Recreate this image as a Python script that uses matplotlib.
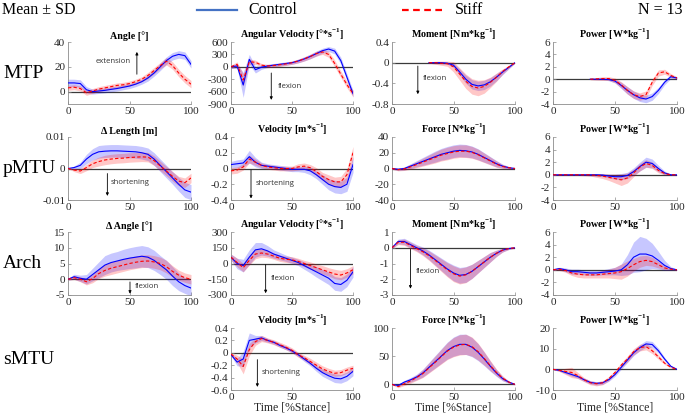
import numpy as np
import matplotlib
matplotlib.use('Agg')
import matplotlib.pyplot as plt
from matplotlib.lines import Line2D

plt.rcParams['font.family'] = 'Liberation Serif'
plt.rcParams['axes.unicode_minus'] = False
plt.rcParams['mathtext.fontset'] = 'custom'
plt.rcParams['mathtext.rm'] = 'Liberation Serif'
plt.rcParams['mathtext.bf'] = 'Liberation Serif:bold'

nan = float('nan')
pct = list(range(0, 101, 5))  # % stance

# ---- MTP ----
mtp_ang_c = [7, 7, 6.5, 1.5, 0, 0.5, 1, 1.8, 2.5, 3.5, 4.5, 6, 8, 11, 15, 20, 25, 28.5, 30, 29, 22]
mtp_ang_c_sd = [3, 3, 3, 2.5, 2, 2, 2, 2, 2, 2, 2, 2, 2, 2.5, 2.5, 3, 3, 3, 3, 3, 3]
mtp_ang_s = [3, 3.5, 2.5, -1, 0.5, 2, 3, 4, 5, 5.5, 6.5, 8, 10, 13, 17, 21, 24.5, 21, 15, 10, 6]
mtp_ang_s_sd = [2, 2, 2, 2, 2, 2, 2, 2, 2, 2, 2, 2, 2, 2.5, 2.5, 2.5, 3, 3, 3, 3, 3]

mtp_vel_c = [0, 20, -440, 180, -70, -10, 20, 40, 60, 80, 100, 140, 190, 250, 320, 390, 430, 380, 150, -250, -650]
mtp_vel_c_sd = [40, 60, 300, 120, 80, 50, 40, 40, 40, 40, 40, 45, 50, 55, 60, 60, 60, 70, 80, 80, 80]
mtp_vel_s = [0, 60, -320, 120, 110, 40, 20, 30, 50, 70, 100, 140, 190, 250, 320, 360, 300, 80, -180, -430, -650]
mtp_vel_s_sd = [40, 60, 150, 70, 50, 40, 40, 40, 40, 40, 40, 45, 50, 55, 60, 60, 70, 80, 80, 80, 80]

mtp_mom_c = [nan] * 6 + [0, 0, 0, -0.01, -0.05, -0.18, -0.32, -0.42, -0.45, -0.43, -0.37, -0.28, -0.18, -0.09, 0]
mtp_mom_c_sd = [nan] * 6 + [0.01, 0.01, 0.02, 0.02, 0.04, 0.06, 0.08, 0.09, 0.09, 0.09, 0.08, 0.07, 0.05, 0.03, 0.01]
mtp_mom_s = [nan] * 6 + [0, 0, -0.01, -0.02, -0.08, -0.22, -0.36, -0.46, -0.49, -0.46, -0.38, -0.28, -0.17, -0.08, 0]
mtp_mom_s_sd = [nan] * 6 + [0.01, 0.03, 0.04, 0.05, 0.1, 0.12, 0.14, 0.15, 0.15, 0.13, 0.1, 0.08, 0.05, 0.03, 0.01]

mtp_pow_c = [nan] * 6 + [0, 0, 0, -0.05, -0.3, -1.0, -1.8, -2.5, -3.0, -3.2, -2.8, -1.8, -0.5, 0.4, 0.2]
mtp_pow_c_sd = [nan] * 6 + [0.05, 0.1, 0.1, 0.2, 0.3, 0.5, 0.6, 0.6, 0.6, 0.6, 0.6, 0.5, 0.4, 0.3, 0.2]
mtp_pow_s = [nan] * 6 + [0, 0.05, 0.1, 0.1, -0.2, -0.9, -1.8, -2.5, -2.8, -2.5, -0.5, 1.0, 1.2, 0.6, 0.2]
mtp_pow_s_sd = [nan] * 6 + [0.1, 0.2, 0.3, 0.3, 0.4, 0.5, 0.6, 0.6, 0.6, 0.6, 0.5, 0.5, 0.4, 0.3, 0.2]

# ---- pMTU ----
pmtu_len_c = [0, 0.0003, 0.001, 0.003, 0.0045, 0.0053, 0.0055, 0.0056, 0.0056, 0.0055, 0.0054, 0.0053, 0.005, 0.0045, 0.003, 0.001, -0.001, -0.003, -0.005, -0.0068, -0.0075]
pmtu_len_c_sd = [0, 0.0005, 0.001, 0.0015, 0.0018, 0.002, 0.002, 0.002, 0.002, 0.002, 0.002, 0.002, 0.002, 0.002, 0.002, 0.002, 0.002, 0.002, 0.0022, 0.0024, 0.0024]
pmtu_len_s = [0, -0.0005, -0.0008, 0.0003, 0.0015, 0.0022, 0.0027, 0.003, 0.0032, 0.0033, 0.0035, 0.0036, 0.0037, 0.0036, 0.0025, 0.0008, -0.0008, -0.0025, -0.004, -0.0045, -0.003]
pmtu_len_s_sd = [0, 0.0005, 0.0008, 0.001, 0.0012, 0.0014, 0.0015, 0.0015, 0.0015, 0.0015, 0.0015, 0.0015, 0.0015, 0.0015, 0.0015, 0.0015, 0.0015, 0.0015, 0.0015, 0.0015, 0.0015]

pmtu_vel_c = [0.05, 0.06, 0.07, 0.15, 0.08, 0.04, 0.03, 0.02, 0.01, 0.0, -0.01, -0.01, -0.01, -0.03, -0.08, -0.14, -0.2, -0.23, -0.24, -0.2, 0.05]
pmtu_vel_c_sd = [0.04, 0.05, 0.05, 0.08, 0.06, 0.04, 0.03, 0.03, 0.03, 0.03, 0.03, 0.03, 0.04, 0.05, 0.05, 0.06, 0.07, 0.08, 0.08, 0.09, 0.1]
pmtu_vel_s = [-0.03, -0.02, 0.02, 0.12, 0.08, 0.04, 0.02, 0.01, 0.0, 0.0, 0.0, 0.02, 0.03, 0.01, -0.04, -0.1, -0.14, -0.17, -0.17, -0.08, 0.2]
pmtu_vel_s_sd = [0.04, 0.04, 0.04, 0.05, 0.04, 0.03, 0.03, 0.03, 0.03, 0.03, 0.03, 0.04, 0.04, 0.04, 0.05, 0.05, 0.06, 0.06, 0.07, 0.08, 0.08]

pmtu_frc_c = [0, -1, 0, 3, 6, 9, 12, 15, 18, 20, 22, 23, 22.5, 21, 18, 14, 10, 6, 3, 1, 0]
pmtu_frc_c_sd = [1, 1.5, 2, 3, 4, 5, 6, 7, 7.5, 8, 8, 8, 8, 7.5, 7, 6, 5, 4, 2.5, 1.5, 0.5]
pmtu_frc_s = [0, -1.5, -0.5, 2, 5, 8, 11, 14, 17, 19, 21, 22, 22, 20.5, 17.5, 13.5, 9.5, 5.5, 2.5, 1, 0]
pmtu_frc_s_sd = [1, 1.5, 2, 3, 4, 5, 6, 7, 7.5, 8, 8, 8, 8, 7.5, 7, 6, 5, 4, 2.5, 1.5, 0.5]

pmtu_pow_c = [0, 0, 0, 0, 0, 0, 0, 0, -0.05, -0.2, -0.3, -0.3, -0.1, 0.5, 1.3, 2.0, 1.8, 1.0, 0.3, 0, 0]
pmtu_pow_c_sd = [0.05, 0.1, 0.1, 0.1, 0.1, 0.1, 0.15, 0.2, 0.25, 0.3, 0.4, 0.5, 0.5, 0.6, 0.7, 0.8, 0.7, 0.5, 0.3, 0.1, 0.05]
pmtu_pow_s = [0, 0, 0, 0, 0, 0, 0, -0.1, -0.2, -0.4, -0.6, -0.8, -0.5, 0.3, 1.2, 1.8, 1.5, 0.7, 0.2, 0, 0]
pmtu_pow_s_sd = [0.05, 0.1, 0.1, 0.1, 0.1, 0.15, 0.2, 0.3, 0.4, 0.5, 0.7, 0.9, 0.8, 0.6, 0.6, 0.6, 0.5, 0.4, 0.2, 0.1, 0.05]

# ---- Arch ----
arch_ang_c = [0, 0.8, 0.3, 0.0, 1.5, 3, 4.5, 5.3, 5.8, 6.3, 6.7, 7.0, 7.3, 7.0, 6.0, 4.5, 3, 1, -0.8, -2, -2.8]
arch_ang_c_sd = [0.3, 0.8, 1, 1.5, 2, 2.5, 3, 3, 3, 3.2, 3.3, 3.4, 3.4, 3.3, 3.2, 3, 3, 3, 2.8, 2.5, 2.5]
arch_ang_s = [0, 0.5, 0, -0.8, 0.2, 1.8, 2.8, 3.5, 4.0, 4.5, 5.0, 5.4, 5.7, 5.8, 5.5, 5, 4, 2.5, 1.3, 0.5, 0.0]
arch_ang_s_sd = [0.3, 0.6, 0.8, 1, 1.3, 1.6, 1.8, 2, 2, 2, 2, 2, 2, 2, 2, 2, 2, 1.8, 1.6, 1.5, 1.5]

arch_vel_c = [60, 0, -20, 60, 130, 140, 120, 90, 70, 50, 30, 10, -20, -50, -80, -110, -140, -190, -200, -160, -80]
arch_vel_c_sd = [30, 50, 60, 70, 70, 60, 50, 40, 35, 30, 30, 30, 35, 40, 50, 55, 60, 65, 65, 60, 50]
arch_vel_s = [60, 10, -40, 30, 90, 100, 90, 70, 50, 40, 35, 20, 0, -20, -40, -60, -80, -100, -110, -90, -60]
arch_vel_s_sd = [30, 40, 40, 45, 45, 40, 35, 30, 30, 30, 30, 30, 30, 35, 35, 40, 40, 45, 45, 40, 40]

arch_mom_c = [0, 0.4, 0.4, 0.2, 0.0, -0.2, -0.45, -0.75, -1.05, -1.35, -1.6, -1.75, -1.7, -1.5, -1.2, -0.9, -0.6, -0.35, -0.15, -0.05, 0]
arch_mom_c_sd = [0.05, 0.15, 0.2, 0.2, 0.2, 0.25, 0.3, 0.35, 0.4, 0.45, 0.5, 0.5, 0.5, 0.45, 0.4, 0.35, 0.3, 0.2, 0.12, 0.06, 0.02]
arch_mom_s = [0, 0.35, 0.35, 0.15, -0.05, -0.25, -0.5, -0.8, -1.1, -1.4, -1.65, -1.8, -1.72, -1.5, -1.2, -0.9, -0.6, -0.35, -0.15, -0.05, 0]
arch_mom_s_sd = [0.05, 0.15, 0.2, 0.2, 0.2, 0.25, 0.3, 0.35, 0.4, 0.45, 0.5, 0.5, 0.5, 0.45, 0.4, 0.35, 0.3, 0.2, 0.12, 0.06, 0.02]

arch_pow_c = [0, 0.2, 0, -0.3, -0.3, -0.4, -0.5, -0.5, -0.4, -0.3, -0.2, 0, 0.8, 2.0, 2.5, 2.5, 2.2, 1.5, 0.7, 0.2, 0]
arch_pow_c_sd = [0.05, 0.2, 0.3, 0.4, 0.4, 0.4, 0.4, 0.4, 0.4, 0.5, 0.6, 0.9, 1.6, 2.4, 2.8, 2.5, 2.0, 1.4, 0.8, 0.3, 0.1]
arch_pow_s = [0, 0.1, -0.1, -0.5, -0.7, -0.8, -0.8, -0.8, -0.7, -0.6, -0.5, -0.3, 0.2, 0.8, 1.3, 1.5, 1.3, 0.8, 0.3, 0.1, 0]
arch_pow_s_sd = [0.05, 0.2, 0.3, 0.4, 0.5, 0.5, 0.5, 0.5, 0.6, 0.7, 0.9, 1.2, 1.2, 1.0, 0.9, 0.8, 0.7, 0.5, 0.3, 0.1, 0.05]

# ---- sMTU ----
smtu_vel_c = [-0.03, -0.15, -0.1, 0.2, 0.22, 0.24, 0.2, 0.17, 0.12, 0.08, 0.03, -0.03, -0.1, -0.17, -0.25, -0.32, -0.37, -0.41, -0.42, -0.38, -0.3]
smtu_vel_c_sd = [0.02, 0.06, 0.12, 0.12, 0.06, 0.04, 0.03, 0.03, 0.03, 0.03, 0.03, 0.03, 0.04, 0.04, 0.05, 0.06, 0.06, 0.07, 0.07, 0.07, 0.07]
smtu_vel_s = [-0.02, -0.1, -0.22, 0.05, 0.18, 0.23, 0.2, 0.17, 0.13, 0.09, 0.04, -0.03, -0.08, -0.14, -0.2, -0.26, -0.3, -0.33, -0.32, -0.28, -0.25]
smtu_vel_s_sd = [0.02, 0.06, 0.12, 0.1, 0.06, 0.05, 0.04, 0.04, 0.04, 0.04, 0.04, 0.04, 0.04, 0.05, 0.05, 0.05, 0.05, 0.05, 0.05, 0.05, 0.05]

smtu_frc_c = [0, -2, 4, 8, 13, 20, 30, 40, 50, 60, 67, 71, 71, 66, 57, 45, 32, 20, 10, 4, 0]
smtu_frc_c_sd = [1, 2, 3, 4, 5, 7, 9, 11, 13, 15, 17, 18, 18, 17, 15, 12, 9, 6, 4, 2, 1]
smtu_frc_s = [0, -4, 1, 6, 12, 19, 29, 39, 49, 59, 66, 70, 71, 67, 58, 46, 33, 21, 11, 4, 0]
smtu_frc_s_sd = [1, 2, 3, 4, 5, 7, 9, 11, 13, 15, 17, 18, 18, 17, 15, 12, 9, 6, 4, 2, 1]

smtu_pow_c = [0, -0.5, -1.5, -2.5, -3.5, -5, -6.3, -6.8, -6.5, -5, -2.5, 1, 4.5, 8, 10.5, 12.3, 12, 9, 5, 1.5, 0]
smtu_pow_c_sd = [0.2, 0.4, 0.6, 0.8, 0.8, 0.8, 0.8, 0.8, 0.8, 0.8, 0.9, 1, 1.2, 1.4, 1.5, 1.6, 1.5, 1.2, 0.8, 0.4, 0.1]
smtu_pow_s = [0, -0.5, -1.0, -1.5, -3, -5, -6.5, -7, -6.5, -4.5, -1.5, 2, 5, 8.5, 10.5, 11, 9, 6, 3, 1, 0]
smtu_pow_s_sd = [0.2, 0.5, 1.5, 2.5, 1.5, 1, 1, 1, 1, 1, 1, 1.2, 1.4, 1.5, 1.6, 1.6, 1.4, 1.1, 0.7, 0.3, 0.1]

cols_px = [(68, 191), (231, 353), (392, 515), (553, 677)]
rows_px = [(42, 104), (137, 200), (232, 295), (328, 390)]
row_names = ['MTP', 'pMTU', 'Arch', 'sMTU']

t_ang = 'Angle [°]'
t_avel = 'Angular Velocity [°*s$^{\\mathbf{-1}}$]'
t_mom = 'Moment [Nm*kg$^{\\mathbf{-1}}$]'
t_pow = 'Power [W*kg$^{\\mathbf{-1}}$]'
t_vel = 'Velocity [m*s$^{\\mathbf{-1}}$]'
t_frc = 'Force [N*kg$^{\\mathbf{-1}}$]'

# (row, col, title, ctrl, ctrl_sd, stiff, stiff_sd, ylim, yticks, annotation)
panels = [
    (0, 0, t_ang, mtp_ang_c, mtp_ang_c_sd, mtp_ang_s, mtp_ang_s_sd, (-10, 40), [0, 20, 40],
     ('extension', 56, 14, 32, 37, 24, 'center')),
    (0, 1, t_avel, mtp_vel_c, mtp_vel_c_sd, mtp_vel_s, mtp_vel_s_sd, (-900, 600), [-900, -600, -300, 0, 300, 600],
     ('flexion', 33, -150, -800, 38, -475, 'left')),
    (0, 2, t_mom, mtp_mom_c, mtp_mom_c_sd, mtp_mom_s, mtp_mom_s_sd, (-0.8, 0.4), [-0.8, -0.4, 0, 0.4],
     ('flexion', 21, -0.065, -0.61, 25, -0.31, 'left')),
    (0, 3, t_pow, mtp_pow_c, mtp_pow_c_sd, mtp_pow_s, mtp_pow_s_sd, (-4, 6), [-4, -2, 0, 2, 4, 6], None),
    (1, 0, 'Δ Length [m]', pmtu_len_c, pmtu_len_c_sd, pmtu_len_s, pmtu_len_s_sd, (-0.01, 0.01), [-0.01, 0, 0.01],
     ('shortening', 32, -0.0016, -0.0087, 35, -0.0044, 'left')),
    (1, 1, t_vel, pmtu_vel_c, pmtu_vel_c_sd, pmtu_vel_s, pmtu_vel_s_sd, (-0.4, 0.4), [-0.4, -0.2, 0, 0.2, 0.4],
     ('shortening', 16.4, -0.02, -0.38, 20, -0.19, 'left')),
    (1, 2, t_frc, pmtu_frc_c, pmtu_frc_c_sd, pmtu_frc_s, pmtu_frc_s_sd, (-40, 40), [-40, -20, 0, 20, 40], None),
    (1, 3, t_pow, pmtu_pow_c, pmtu_pow_c_sd, pmtu_pow_s, pmtu_pow_s_sd, (-4, 6), [-4, -2, 0, 2, 4, 6], None),
    (2, 0, 'Δ Angle [°]', arch_ang_c, arch_ang_c_sd, arch_ang_s, arch_ang_s_sd, (-5, 15), [-5, 0, 5, 10, 15],
     ('flexion', 50.4, -0.85, -4.6, 54.5, -2.4, 'left')),
    (2, 1, t_avel, arch_vel_c, arch_vel_c_sd, arch_vel_s, arch_vel_s_sd, (-300, 300), [-300, -150, 0, 150, 300],
     ('flexion', 28.4, -12, -283, 32.5, -140, 'left')),
    (2, 2, t_mom, arch_mom_c, arch_mom_c_sd, arch_mom_s, arch_mom_s_sd, (-3, 1), [-3, -2, -1, 0, 1],
     ('flexion', 15, -0.1, -2.6, 19, -1.5, 'left')),
    (2, 3, t_pow, arch_pow_c, arch_pow_c_sd, arch_pow_s, arch_pow_s_sd, (-4, 6), [-4, -2, 0, 2, 4, 6], None),
    (3, 1, t_vel, smtu_vel_c, smtu_vel_c_sd, smtu_vel_s, smtu_vel_s_sd, (-0.6, 0.4), [-0.6, -0.4, -0.2, 0, 0.2, 0.4],
     ('shortening', 21.6, -0.11, -0.55, 25, -0.31, 'left')),
    (3, 2, t_frc, smtu_frc_c, smtu_frc_c_sd, smtu_frc_s, smtu_frc_s_sd, (-10, 100), [0, 50, 100], None),
    (3, 3, t_pow, smtu_pow_c, smtu_pow_c_sd, smtu_pow_s, smtu_pow_s_sd, (-10, 20), [-10, 0, 10, 20], None),
]

W, H = 685, 416
fig = plt.figure(figsize=(W / 100, H / 100), dpi=100)


def fmt(v):
    if abs(v) < 1e-12:
        return '0'
    return ('%g' % v)


for (r, c, title, yc, yc_sd, ys, ys_sd, ylim, yticks, ann) in panels:
    x0, x1 = cols_px[c]
    y0, y1 = rows_px[r]
    ax = fig.add_axes([x0 / W, 1 - y1 / H, (x1 - x0) / W, (y1 - y0) / H])
    yc, yc_sd = np.array(yc, float), np.array(yc_sd, float)
    ys, ys_sd = np.array(ys, float), np.array(ys_sd, float)
    ax.axhline(0, color='#3a3a3a', lw=0.9, zorder=1)
    ax.fill_between(pct, yc - yc_sd, yc + yc_sd, color='#0000ff', alpha=0.22, lw=0, zorder=2)
    ax.fill_between(pct, ys - ys_sd, ys + ys_sd, color='#ff0000', alpha=0.22, lw=0, zorder=2)
    ax.plot(pct, yc, color='#0000ff', lw=0.8, zorder=3)
    ax.plot(pct, ys, color='#ff0000', lw=0.8, ls=(0, (3, 2)), zorder=4)
    ax.set_xlim(0, 100)
    ax.set_ylim(*ylim)
    ax.set_xticks([0, 50, 100])
    ax.set_yticks(yticks)
    ax.set_yticklabels([fmt(v) for v in yticks])
    for s in ['top', 'right']:
        ax.spines[s].set_visible(False)
    for s in ['left', 'bottom']:
        ax.spines[s].set_color('#8c8c8c')
        ax.spines[s].set_linewidth(0.6)
    ax.tick_params(direction='in', length=2, width=0.5, color='#8c8c8c',
                   labelsize=8, labelcolor='#262626', pad=2)
    ax.set_title(title, fontsize=7.2, fontweight='bold', pad=2.5)
    if r == 3:
        ax.set_xlabel('Time [%Stance]', fontsize=8.5, labelpad=0, color='#262626')
    if ann is not None:
        txt, ax_x, ay0, ay1, tx, ty, ha = ann
        ax.annotate('', xy=(ax_x, ay1), xytext=(ax_x, ay0),
                    arrowprops=dict(arrowstyle='-|>', lw=0.6, color='k', mutation_scale=4,
                                    shrinkA=0, shrinkB=0))
        ax.text(tx, ty, txt, fontsize=5.6, family='Open Sans', ha=ha, va='center', color='#333333')

# row labels
for name, (y0, y1) in zip(row_names, rows_px):
    fig.text(3 / W, 1 - ((y0 + y1) / 2) / H, name, fontsize=14, ha='left', va='center')

# header
hy = 1 - 10 / H
fig.text(2 / W, hy, 'Mean ± SD', fontsize=11.5, ha='left', va='center')
fig.add_artist(Line2D([197 / W, 237 / W], [hy, hy], color='#4472c4', lw=1.6, transform=fig.transFigure))
fig.text(248 / W, hy, 'Control', fontsize=11.5, ha='left', va='center')
fig.add_artist(Line2D([402 / W, 442 / W], [hy, hy], color='#ff0000', lw=1.6, ls=(0, (3, 2)),
                      transform=fig.transFigure))
fig.text(455 / W, hy, 'Stiff', fontsize=11.5, ha='left', va='center')
fig.text(683 / W, hy, 'N = 13', fontsize=11.5, ha='right', va='center')

fig.savefig('out.png', dpi=100)
